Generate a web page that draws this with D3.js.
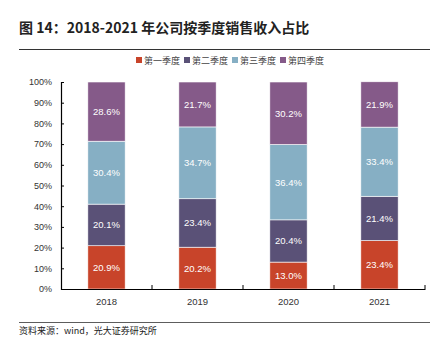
<!DOCTYPE html>
<html>
<head>
<meta charset="utf-8">
<script src="https://cdn.jsdelivr.net/npm/d3@7"></script>
<style>
  body { margin: 0; background: #fff; }
  svg { font-family: "Liberation Sans", Arial, "Noto Sans CJK SC", sans-serif; }
  .cjk { font-family: "Noto Sans CJK SC", sans-serif; }
</style>
</head>
<body>
<svg id="chart"></svg>
<script>
// data
const years = ['2018', '2019', '2020', '2021'];
const quarters = ['第一季度', '第二季度', '第三季度', '第四季度'];
const q1 = [20.9, 20.2, 13.0, 23.4];
const q2 = [20.1, 23.4, 20.4, 21.4];
const q3 = [30.4, 34.7, 36.4, 33.4];
const q4 = [28.6, 21.7, 30.2, 21.9];
const yTicks = [0, 10, 20, 30, 40, 50, 60, 70, 80, 90, 100];
const colors = ['#c8442a', '#5a5177', '#86afc4', '#855a89'];

const W = 438, H = 353;
const margin = {top: 82, right: 13, bottom: 64, left: 61};
const width = W - margin.left - margin.right;
const height = H - margin.top - margin.bottom;

const svg = d3.select('#chart').attr('width', W).attr('height', H);

// title + rule
svg.append('text')
    .attr('class', 'cjk')
    .attr('x', 19).attr('y', 33)
    .attr('font-size', 14).attr('font-weight', 'bold').attr('fill', '#222')
    .text('图 14：2018-2021 年公司按季度销售收入占比');
svg.append('line')
    .attr('x1', 19).attr('x2', 430).attr('y1', 49.5).attr('y2', 49.5)
    .attr('stroke', '#333').attr('stroke-width', 1);

// legend
const legend = svg.append('g').attr('transform', 'translate(136,60)');
quarters.forEach((q, i) => {
  const g = legend.append('g').attr('transform', `translate(${i * 48},0)`);
  g.append('rect').attr('x', 0).attr('y', -3).attr('width', 6).attr('height', 6).attr('fill', colors[i]);
  g.append('text').attr('class', 'cjk').attr('x', 8).attr('y', 3.5)
      .attr('font-size', 9).attr('fill', '#444').text(q);
});

const chart = svg.append('g').attr('transform', `translate(${margin.left},${margin.top})`);

const x = d3.scaleBand().domain(years).range([0, width]).paddingInner(0.59).paddingOuter(0.295);
const xOuter = d3.scaleBand().domain(years).range([0, width]);
const y = d3.scaleLinear().domain([0, 100]).range([height, 0]);

const rows = years.map((yr, i) => ({year: yr, q1: q1[i], q2: q2[i], q3: q3[i], q4: q4[i]}));
const stack = d3.stack().keys(['q1', 'q2', 'q3', 'q4'])(rows);

stack.forEach((layer, k) => {
  chart.selectAll('.bar' + k)
    .data(layer)
    .join('rect')
      .attr('x', d => x(d.data.year))
      .attr('width', x.bandwidth())
      .attr('y', d => y(d[1]))
      .attr('height', d => y(d[0]) - y(d[1]))
      .attr('fill', colors[k])
      .attr('stroke', '#fff').attr('stroke-width', 0.6);
  chart.selectAll('.lab' + k)
    .data(layer)
    .join('text')
      .attr('x', d => x(d.data.year) + x.bandwidth() / 2)
      .attr('y', d => (y(d[0]) + y(d[1])) / 2 + 3.5)
      .attr('text-anchor', 'middle')
      .attr('font-size', 9.5).attr('fill', '#fff')
      .text(d => (d[1] - d[0]).toFixed(1) + '%');
});

// y axis
const yAxis = chart.append('g')
    .call(d3.axisLeft(y).tickValues(yTicks).tickFormat(d => d + '%').tickSize(-3).tickPadding(9));
yAxis.select('.domain').attr('stroke', '#000').attr('stroke-width', 1.2);
yAxis.selectAll('.tick line').attr('stroke', '#000');
yAxis.selectAll('text').attr('font-size', 9).attr('fill', '#333');

// x axis
const xAxis = chart.append('g').attr('transform', `translate(0,${height})`)
    .call(d3.axisBottom(xOuter).tickSize(0).tickPadding(9));
xAxis.select('.domain').attr('stroke', '#000').attr('stroke-width', 1.2);
xAxis.selectAll('text').attr('font-size', 9.5).attr('fill', '#333');
xAxis.selectAll('.sep')
  .data(years)
  .join('line')
    .attr('x1', d => xOuter(d) + xOuter.bandwidth())
    .attr('x2', d => xOuter(d) + xOuter.bandwidth())
    .attr('y1', 0).attr('y2', -4)
    .attr('stroke', '#000');

// footer
svg.append('line')
    .attr('x1', 19).attr('x2', 430).attr('y1', 322.5).attr('y2', 322.5)
    .attr('stroke', '#333').attr('stroke-width', 0.8);
svg.append('text')
    .attr('class', 'cjk')
    .attr('x', 19).attr('y', 334)
    .attr('font-size', 9).attr('fill', '#222')
    .text('资料来源：wind，光大证券研究所');
</script>
</body>
</html>
